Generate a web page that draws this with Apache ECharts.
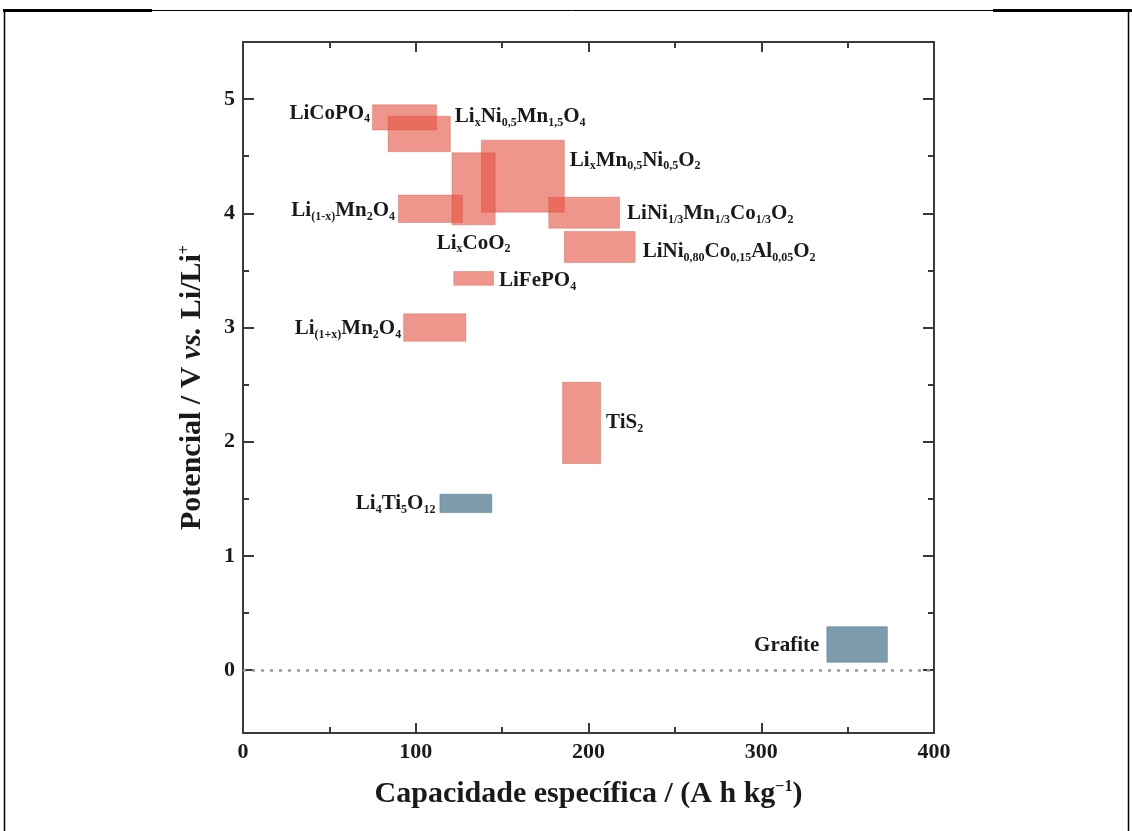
<!DOCTYPE html>
<html>
<head>
<meta charset="utf-8">
<title>Potencial vs. capacidade específica</title>
<script src="https://cdn.jsdelivr.net/npm/echarts@6/dist/echarts.min.js"></script>
<style>
html, body { margin: 0; padding: 0; background: #fff; }
#chart { width: 1132px; height: 831px; }
</style>
</head>
<body>
<div id="chart"></div>
<script>
// materiais de eletrodo
var materiais = ['LiCoPO4', 'LixNi0,5Mn1,5O4', 'LixMn0,5Ni0,5O2', 'Li(1-x)Mn2O4', 'LixCoO2',
    'LiNi1/3Mn1/3Co1/3O2', 'LiNi0,80Co0,15Al0,05O2', 'LiFePO4', 'Li(1+x)Mn2O4', 'TiS2',
    'Li4Ti5O12', 'Grafite'];
// mesmo nome, com sub-índices (rich text)
var rotulos = ['LiCoPO{s|4}', 'Li{s|x}Ni{s|0,5}Mn{s|1,5}O{s|4}', 'Li{s|x}Mn{s|0,5}Ni{s|0,5}O{s|2}',
    'Li{s|(1-x)}Mn{s|2}O{s|4}', 'Li{s|x}CoO{s|2}', 'LiNi{s|1/3}Mn{s|1/3}Co{s|1/3}O{s|2}',
    'LiNi{s|0,80}Co{s|0,15}Al{s|0,05}O{s|2}', 'LiFePO{s|4}', 'Li{s|(1+x)}Mn{s|2}O{s|4}', 'TiS{s|2}',
    'Li{s|4}Ti{s|5}O{s|12}', 'Grafite'];
var tipo = ['catodo', 'catodo', 'catodo', 'catodo', 'catodo', 'catodo', 'catodo', 'catodo',
    'catodo', 'catodo', 'anodo', 'anodo'];
// capacidade específica (A h kg-1)
var capMin = [75, 84, 138, 90, 121, 177, 186, 122, 93, 185, 114, 338];
var capMax = [112, 120, 186, 127, 146, 218, 227, 145, 129, 207, 144, 373];
// potencial (V vs. Li/Li+)
var potMin = [4.73, 4.54, 4.01, 3.92, 3.90, 3.87, 3.57, 3.37, 2.88, 1.81, 1.38, 0.07];
var potMax = [4.95, 4.85, 4.64, 4.16, 4.53, 4.14, 3.84, 3.49, 3.12, 2.52, 1.54, 0.38];

var yTicks = [0, 1, 2, 3, 4, 5];
var yMinor = [0.5, 1.5, 2.5, 3.5, 4.5];
var linhaZero = 0;

// onde fica o nome de cada retangulo: [posicao, distancia, offset]
var posRotulo = {
    'LiCoPO4': ['left', 2, [0, -4]],
    'LixNi0,5Mn1,5O4': ['right', 4, [0, -17]],
    'LixMn0,5Ni0,5O2': ['right', 5, [0, -16]],
    'Li(1-x)Mn2O4': ['left', 3, [0, 2]],
    'LixCoO2': ['bottom', 6, [0, 0]],
    'LiNi1/3Mn1/3Co1/3O2': ['right', 7, [0, 1]],
    'LiNi0,80Co0,15Al0,05O2': ['right', 7, [0, 5]],
    'LiFePO4': ['right', 5, [0, 2]],
    'Li(1+x)Mn2O4': ['left', 2, [0, 1]],
    'TiS2': ['right', 5, [0, 0]],
    'Li4Ti5O12': ['left', 4, [0, 0]],
    'Grafite': ['left', 7, [0, 1]]
};

var serif = 'Liberation Serif';
var corTexto = '#1a1a1a';
var corEixo = '#3a3a3a';

var richRotulo = {
    s: { fontFamily: serif, fontWeight: 'bold', fontSize: 12, lineHeight: 12, padding: [12, 0, 0, 0], fill: corTexto }
};

function desenhaRetangulo(params, api) {
    var i = params.dataIndex;
    var a = api.coord([api.value(0), api.value(3)]);
    var b = api.coord([api.value(1), api.value(2)]);
    var lay = posRotulo[materiais[i]];
    var anodo = tipo[i] === 'anodo';
    return {
        type: 'rect',
        shape: { x: a[0], y: a[1], width: b[0] - a[0], height: b[1] - a[1] },
        style: {
            fill: anodo ? '#7c9bad' : 'rgba(228,80,64,0.6)',
            stroke: anodo ? 'rgba(95,130,150,0.6)' : 'rgba(215,70,55,0.35)',
            lineWidth: 1
        },
        textContent: {
            type: 'text',
            style: {
                text: rotulos[i], fill: corTexto, fontFamily: serif, fontWeight: 'bold',
                fontSize: 21, lineHeight: 24, rich: richRotulo
            }
        },
        textConfig: { position: lay[0], distance: lay[1], offset: lay[2] }
    };
}

var eixoLinha = { show: true, onZero: false, lineStyle: { color: corEixo, width: 2 } };

function eixoY(lado, valores, comp, comRotulo) {
    return {
        type: 'value', position: lado, min: -0.55, max: 5.5,
        axisLine: eixoLinha,
        splitLine: { show: false },
        axisTick: { show: true, inside: true, length: comp, customValues: valores, lineStyle: { color: corEixo, width: 2 } },
        axisLabel: comRotulo ? {
            show: true, customValues: yTicks, margin: 8, color: corTexto,
            fontFamily: serif, fontWeight: 'bold', fontSize: 22
        } : { show: false }
    };
}

var myChart = echarts.init(document.getElementById('chart'));

var yNome = eixoY('left', yTicks, 11, true);
yNome.name = 'Potencial / V {i|vs.} Li/Li{sup|+}';
yNome.nameLocation = 'middle';
yNome.nameGap = 36;
yNome.nameTextStyle = {
    color: corTexto, fontFamily: serif, fontWeight: 'bold', fontSize: 30,
    rich: {
        i: { color: corTexto, fontFamily: serif, fontWeight: 'bold', fontStyle: 'italic', fontSize: 30 },
        sup: { color: corTexto, fontFamily: serif, fontWeight: 'bold', fontSize: 16, padding: [0, 0, 14, 0] }
    }
};

var option = {
    backgroundColor: '#fff',
    animation: false,
    grid: { left: 243, right: 198, top: 42, bottom: 98 },
    xAxis: [{
        type: 'value', position: 'bottom', min: 0, max: 400, interval: 100,
        axisLine: eixoLinha,
        splitLine: { show: false },
        axisTick: { inside: true, length: 10, lineStyle: { color: corEixo, width: 2 } },
        minorTick: { show: true, splitNumber: 2, length: 6, lineStyle: { color: corEixo, width: 2 } },
        minorSplitLine: { show: false },
        axisLabel: { margin: 8, color: corTexto, fontFamily: serif, fontWeight: 'bold', fontSize: 22 },
        name: 'Capacidade específica / (A h kg{sup|−1})',
        nameLocation: 'middle',
        nameGap: 46,
        nameTextStyle: {
            color: corTexto, fontFamily: serif, fontWeight: 'bold', fontSize: 30,
            rich: {
                sup: { color: corTexto, fontFamily: serif, fontWeight: 'bold', fontSize: 16, padding: [0, 0, 14, 0] }
            }
        }
    }, {
        type: 'value', position: 'top', min: 0, max: 400, interval: 100,
        axisLine: eixoLinha,
        splitLine: { show: false },
        axisTick: { inside: true, length: 10, lineStyle: { color: corEixo, width: 2 } },
        minorTick: { show: true, splitNumber: 2, length: 6, lineStyle: { color: corEixo, width: 2 } },
        axisLabel: { show: false }
    }],
    yAxis: [
        yNome,
        eixoY('left', yMinor, 6, false),
        eixoY('right', yTicks, 11, false),
        eixoY('right', yMinor, 6, false)
    ],
    series: [{
        type: 'custom',
        renderItem: desenhaRetangulo,
        xAxisIndex: 0,
        yAxisIndex: 0,
        encode: { x: [0, 1], y: [2, 3] },
        data: materiais.map(function (m, i) {
            return [capMin[i], capMax[i], potMin[i], potMax[i]];
        }),
        z: 3
    }, {
        type: 'line',
        data: [],
        xAxisIndex: 0,
        yAxisIndex: 0,
        markLine: {
            silent: true,
            symbol: 'none',
            label: { show: false },
            lineStyle: { color: '#9a9a9a', width: 2.5, type: [3, 6] },
            data: [{ yAxis: linhaZero }]
        },
        z: 2
    }],
    // moldura da figura original
    graphic: [
        { type: 'line', shape: { x1: 150, y1: 10.5, x2: 995, y2: 10.5 }, style: { stroke: '#000', lineWidth: 1 } },
        { type: 'line', shape: { x1: 3, y1: 10.5, x2: 152, y2: 10.5 }, style: { stroke: '#000', lineWidth: 3 } },
        { type: 'line', shape: { x1: 993, y1: 10.5, x2: 1132, y2: 10.5 }, style: { stroke: '#000', lineWidth: 3 } },
        { type: 'line', shape: { x1: 4.5, y1: 10, x2: 4.5, y2: 831 }, style: { stroke: '#000', lineWidth: 1.5 } },
        { type: 'line', shape: { x1: 1128.5, y1: 10, x2: 1128.5, y2: 831 }, style: { stroke: '#000', lineWidth: 1.5 } }
    ]
};

myChart.setOption(option);
window.addEventListener('resize', function () {
    myChart.resize();
});
</script>
</body>
</html>
